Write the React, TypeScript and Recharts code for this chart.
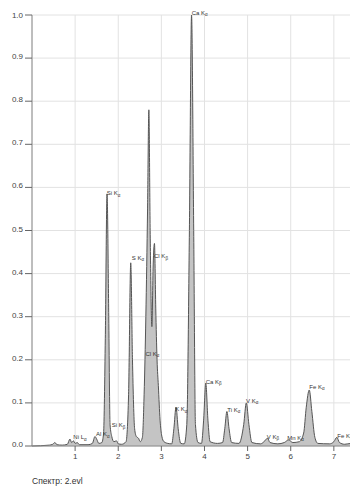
import { ComposedChart, Area, XAxis, YAxis, CartesianGrid, ReferenceDot } from "recharts";

// spectrum sampled at uneven energies (keV) -> normalised intensity
const energy = [
  0.0, 0.4, 0.48, 0.53, 0.58, 0.7, 0.82, 0.88, 0.92, 0.96, 1.0, 1.05, 1.1, 1.3, 1.4, 1.46, 1.5, 1.55,
  1.62, 1.66, 1.7, 1.74, 1.78, 1.81, 1.85, 1.9, 1.96, 2.0, 2.08, 2.18, 2.24, 2.29, 2.33, 2.38, 2.42,
  2.47, 2.51, 2.56, 2.6, 2.64, 2.68, 2.71, 2.74, 2.78, 2.81, 2.84, 2.87, 2.9, 2.93, 2.97, 3.01, 3.06,
  3.15, 3.24, 3.29, 3.34, 3.39, 3.45, 3.53, 3.59, 3.65, 3.7, 3.75, 3.79, 3.85, 3.93, 3.98, 4.03, 4.08,
  4.13, 4.3, 4.42, 4.47, 4.52, 4.57, 4.63, 4.8, 4.91, 4.97, 5.03, 5.1, 5.3, 5.4, 5.46, 5.52, 5.7, 5.85,
  5.95, 6.05, 6.2, 6.3, 6.36, 6.43, 6.49, 6.56, 6.63, 6.9, 7.0, 7.07, 7.13, 7.25, 7.4, 7.56,
];
const intensity = [
  0.0, 0.002, 0.004, 0.008, 0.003, 0.002, 0.004, 0.016, 0.008, 0.012, 0.006, 0.008, 0.003, 0.003, 0.006, 0.022, 0.016, 0.006,
  0.008, 0.03, 0.25, 0.585, 0.3, 0.05, 0.022, 0.01, 0.012, 0.005, 0.004, 0.01, 0.12, 0.425, 0.2, 0.04, 0.022,
  0.018, 0.01, 0.02, 0.12, 0.3, 0.55, 0.78, 0.5, 0.277, 0.42, 0.47, 0.32, 0.2, 0.14, 0.06, 0.023, 0.01,
  0.006, 0.005, 0.04, 0.09, 0.04, 0.006, 0.005, 0.05, 0.5, 1.0, 0.5, 0.05, 0.008, 0.006, 0.06, 0.146, 0.06,
  0.01, 0.006, 0.008, 0.04, 0.08, 0.04, 0.008, 0.006, 0.05, 0.1, 0.05, 0.008, 0.005, 0.012, 0.018, 0.008, 0.005, 0.008,
  0.014, 0.008, 0.01, 0.03, 0.09, 0.13, 0.08, 0.02, 0.006, 0.005, 0.01, 0.02, 0.008, 0.004, 0.006, 0.005,
];

// peak labels: element, line, greek subscript, energy of text start, baseline level
const peakNames = ["Ca K", "Si K", "S K", "Cl K", "Cl K", "K K", "Ca K", "Si K", "Al K", "Ni L", "Ti K", "V K", "V K", "Mn K", "Fe K", "Fe K"];
const peakSubs = ["α", "α", "α", "β", "α", "α", "β", "β", "α", "α", "α", "α", "β", "α", "α", "β"];
const peakEnergy = [3.705, 1.733, 2.313, 2.83, 2.63, 3.32, 4.03, 1.85, 1.485, 0.958, 4.53, 4.965, 5.445, 5.92, 6.43, 7.08];
const peakLevel = [1.001, 0.582, 0.432, 0.436, 0.209, 0.081, 0.145, 0.044, 0.023, 0.016, 0.08, 0.1, 0.017, 0.014, 0.133, 0.019];

const xTicks = [1, 2, 3, 4, 5, 6, 7];
const yTicks = [0, 0.1, 0.2, 0.3, 0.4, 0.5, 0.6, 0.7, 0.8, 0.9, 1.0];

const data = energy.map((e, i) => ({ e, v: intensity[i] }));

const FONT = "'Liberation Sans', Arial, sans-serif";

const YTick = (props: any) => {
  const { x, y, payload } = props;
  return (
    <text x={x} y={y + 1} textAnchor="end" fontSize={8} fill="#444" fontFamily={FONT}>
      {payload.value.toFixed(1)}
    </text>
  );
};

const peakLabel = (name: string, sub: string) => (props: any) => {
  const { cx, cy } = props;
  return (
    <text x={cx} y={cy} fontSize={6} fill="#333" fontFamily={FONT}>
      {name}
      <tspan fontSize={4.5} dy={1.5}>
        {sub}
      </tspan>
    </text>
  );
};

export default function App() {
  return (
    <div style={{ position: "relative", width: 350, height: 480 }}>
      <ComposedChart width={350} height={462} data={data} margin={{ top: 7, right: 0, bottom: 0, left: 0 }}>
        <CartesianGrid stroke="#e2e2e2" strokeWidth={1} />
        <XAxis
          dataKey="e"
          type="number"
          domain={[0, 7.56]}
          ticks={xTicks}
          allowDataOverflow
          height={24}
          tickSize={5}
          stroke="#8a8a8a"
          tick={{ fontSize: 8, fill: "#444", fontFamily: FONT }}
          tickLine={{ stroke: "#666" }}
        />
        <YAxis
          type="number"
          domain={[0, 1]}
          ticks={yTicks}
          width={24}
          tickSize={7}
          stroke="#8a8a8a"
          tick={<YTick />}
          tickLine={{ stroke: "#666" }}
        />
        <Area
          type="monotone"
          dataKey="v"
          stroke="#555"
          strokeWidth={1}
          fill="#c4c4c4"
          fillOpacity={1}
          isAnimationActive={false}
          dot={false}
          activeDot={false}
        />
        {peakNames.map((n, i) => (
          <ReferenceDot
            key={i}
            x={peakEnergy[i]}
            y={peakLevel[i]}
            r={0}
            ifOverflow="visible"
            shape={peakLabel(n, peakSubs[i])}
          />
        ))}
      </ComposedChart>
      <div
        style={{
          position: "absolute",
          left: 24,
          top: 468,
          fontSize: 8.5,
          color: "#333",
          fontFamily: FONT,
          whiteSpace: "nowrap",
        }}
      >
        Спектр: 2.evl
      </div>
    </div>
  );
}
